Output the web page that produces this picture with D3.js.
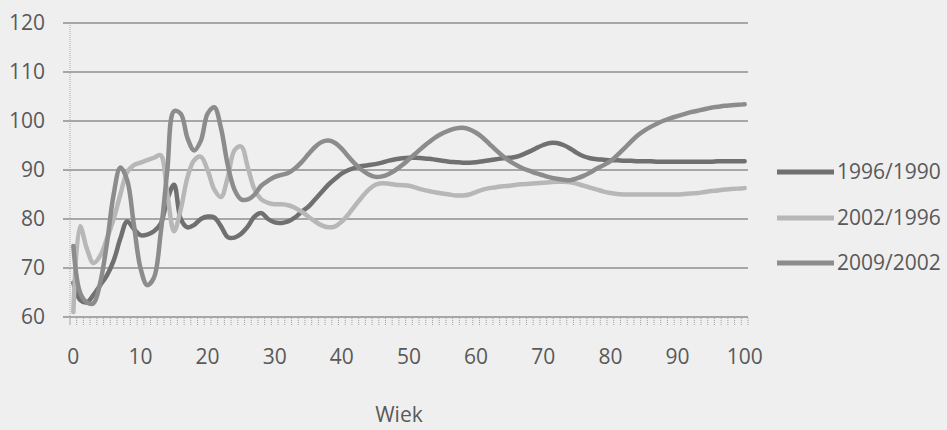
<!DOCTYPE html>
<html>
<head>
<meta charset="utf-8">
<script src="https://cdn.jsdelivr.net/npm/d3@7"></script>
<style>
  html, body { margin: 0; padding: 0; background: #efefef; }
  svg { display: block; }
  text { font-family: "Open Sans", "Noto Sans", sans-serif; fill: #595959; }
</style>
</head>
<body>
<svg id="chart" width="947" height="430"></svg>
<script>
// Age categories 0..100 (x axis)
const ages = d3.range(0, 101);
const xTickLabels = ["0", "10", "20", "30", "40", "50", "60", "70", "80", "90", "100"];
const yTicks = [60, 70, 80, 90, 100, 110, 120];
const seriesNames = ["1996/1990", "2002/1996", "2009/2002"];
const xTitle = "Wiek";

// Index values by age, one value per year of age
const s1996_1990 = [
  67, 63.5, 63, 64.5, 66.5, 68.5, 71.5, 76, 79.5, 78,
  76.7, 76.8, 77.5, 79, 84, 87, 80, 78.3, 78.8, 80,
  80.5, 80.3, 78.5, 76.3, 76.2, 77, 78.5, 80.5, 81.2, 80,
  79.3, 79.2, 79.5, 80.3, 81.5, 82.5, 84, 85.5, 87, 88.2,
  89.3, 90, 90.5, 90.8, 91, 91.2, 91.5, 91.9, 92.2, 92.4,
  92.5, 92.5, 92.4, 92.3, 92.1, 91.9, 91.7, 91.6, 91.5, 91.5,
  91.6, 91.8, 92, 92.2, 92.4, 92.5, 92.7, 93.2, 93.8, 94.5,
  95.1, 95.5, 95.5, 95.1, 94.4, 93.5, 92.8, 92.4, 92.2, 92.1,
  92, 92, 91.9, 91.9, 91.8, 91.8, 91.8, 91.7, 91.7, 91.7,
  91.7, 91.7, 91.7, 91.7, 91.7, 91.7, 91.8, 91.8, 91.8, 91.8,
  91.8
];
const s2002_1996 = [
  61, 78.5, 74, 71, 72.5, 76, 80, 85, 89.5, 91,
  91.5, 92, 92.5, 93, 85, 77.5, 82, 88.5, 92, 92.7,
  90, 86, 84.5, 88.5, 94, 94.8, 90.5, 86, 84, 83.3,
  83, 83, 82.8, 82.3, 81.5, 80.5, 79.5, 78.7, 78.3, 78.5,
  79.5, 81, 82.8, 84.5, 86, 87, 87.3, 87.2, 87, 86.9,
  86.8, 86.4, 86, 85.7, 85.4, 85.2, 85, 84.8, 84.8, 85,
  85.5, 86, 86.3, 86.5, 86.7, 86.8, 87, 87.1, 87.2, 87.3,
  87.4, 87.5, 87.6, 87.6, 87.5, 87.2, 86.8, 86.4, 86, 85.6,
  85.3, 85.1, 85, 85, 85, 85, 85, 85, 85, 85,
  85, 85.1, 85.2, 85.3, 85.5, 85.7, 85.8, 86, 86.1, 86.2,
  86.3
];
const s2009_2002 = [
  74.5, 65, 63, 62.8, 67, 75, 85, 90.5, 88, 79,
  70, 66.5, 68, 77, 90, 102, 101.5, 96.5, 94, 96,
  101.5, 102.8, 98.5, 91, 86, 84, 84, 85, 86.8, 87.8,
  88.6, 89, 89.4, 90.3, 91.6, 93.2, 94.7, 95.7, 96, 95.5,
  94.3, 92.7, 91.2, 90, 89.1, 88.6, 88.7, 89.2, 90, 91,
  92.2, 93.4, 94.6, 95.7, 96.7, 97.5, 98.1, 98.5, 98.6, 98.3,
  97.6, 96.6, 95.3, 94, 92.8, 91.8, 91, 90.3, 89.8, 89.3,
  88.9, 88.5, 88.2, 88, 87.9, 88.3, 88.8, 89.5, 90.3, 91,
  91.8, 93, 94.3, 95.7, 97, 98, 98.8, 99.5, 100.1, 100.6,
  101, 101.4, 101.8, 102.1, 102.4, 102.7, 102.9, 103.1, 103.2, 103.3,
  103.4
];
const seriesColors = ["#707070", "#b7b7b7", "#8c8c8c"];

const svg = d3.select("#chart");
const plot = { left: 70, right: 748, top: 23, bottom: 317 };

// Category axis: one band per year, values drawn at band centres
const x = d3.scaleBand().domain(ages).range([plot.left, plot.right]);
const xc = d => x(d) + x.bandwidth() / 2;
const y = d3.scaleLinear().domain([60, 120]).range([plot.bottom, plot.top]);

// Horizontal gridlines (run a little past the axis as major ticks)
svg.append("g")
  .selectAll("line")
  .data(yTicks)
  .join("line")
  .attr("x1", plot.left - 7)
  .attr("x2", plot.right)
  .attr("y1", d => y(d))
  .attr("y2", d => y(d))
  .attr("stroke", "#8f8f8f")
  .attr("stroke-width", 1.4);

// Vertical value axis line
svg.append("line")
  .attr("x1", plot.left).attr("x2", plot.left)
  .attr("y1", plot.top).attr("y2", plot.bottom + 8)
  .attr("stroke", "#a8a8a8")
  .attr("stroke-width", 1)
  .attr("stroke-dasharray", "1,1");

// Minor tick marks between categories below the axis
const edges = d3.range(0, ages.length + 1);
svg.append("g")
  .selectAll("line")
  .data(edges)
  .join("line")
  .attr("x1", i => plot.left + i * x.step())
  .attr("x2", i => plot.left + i * x.step())
  .attr("y1", plot.bottom + 1)
  .attr("y2", plot.bottom + 8)
  .attr("stroke", "#a0a0a0")
  .attr("stroke-width", 1)
  .attr("stroke-dasharray", "1,1");

// Y tick labels
svg.append("g")
  .selectAll("text")
  .data(yTicks)
  .join("text")
  .attr("x", 45)
  .attr("y", d => y(d))
  .attr("dy", "0.35em")
  .attr("text-anchor", "end")
  .attr("font-size", 21)
  .text(d => d);

// X tick labels
svg.append("g")
  .selectAll("text")
  .data(xTickLabels)
  .join("text")
  .attr("x", d => xc(+d))
  .attr("y", 357)
  .attr("dy", "0.35em")
  .attr("text-anchor", "middle")
  .attr("font-size", 21)
  .text(d => d);

// Axis title
svg.append("text")
  .attr("x", 399)
  .attr("y", 415)
  .attr("dy", "0.35em")
  .attr("text-anchor", "middle")
  .attr("font-size", 21)
  .text(xTitle);

// Smoothed series lines
const line = d3.line()
  .x((d, i) => xc(ages[i]))
  .y(d => y(d))
  .curve(d3.curveCatmullRom.alpha(0.5));

const allSeries = [s1996_1990, s2002_1996, s2009_2002];
svg.append("g")
  .selectAll("path")
  .data(allSeries)
  .join("path")
  .attr("d", d => line(d))
  .attr("fill", "none")
  .attr("stroke", (d, i) => seriesColors[i])
  .attr("stroke-width", 4.5)
  .attr("stroke-linejoin", "round")
  .attr("stroke-linecap", "round");

// Legend
const legendY = [172, 218, 263];
const legend = svg.append("g")
  .selectAll("g")
  .data(seriesNames)
  .join("g")
  .attr("transform", (d, i) => `translate(0,${legendY[i]})`);
legend.append("line")
  .attr("x1", 777).attr("x2", 834)
  .attr("y1", 0).attr("y2", 0)
  .attr("stroke", (d, i) => seriesColors[i])
  .attr("stroke-width", 5);
legend.append("text")
  .attr("x", 837)
  .attr("y", 0)
  .attr("dy", "0.35em")
  .attr("font-size", 21)
  .text(d => d);
</script>
</body>
</html>
